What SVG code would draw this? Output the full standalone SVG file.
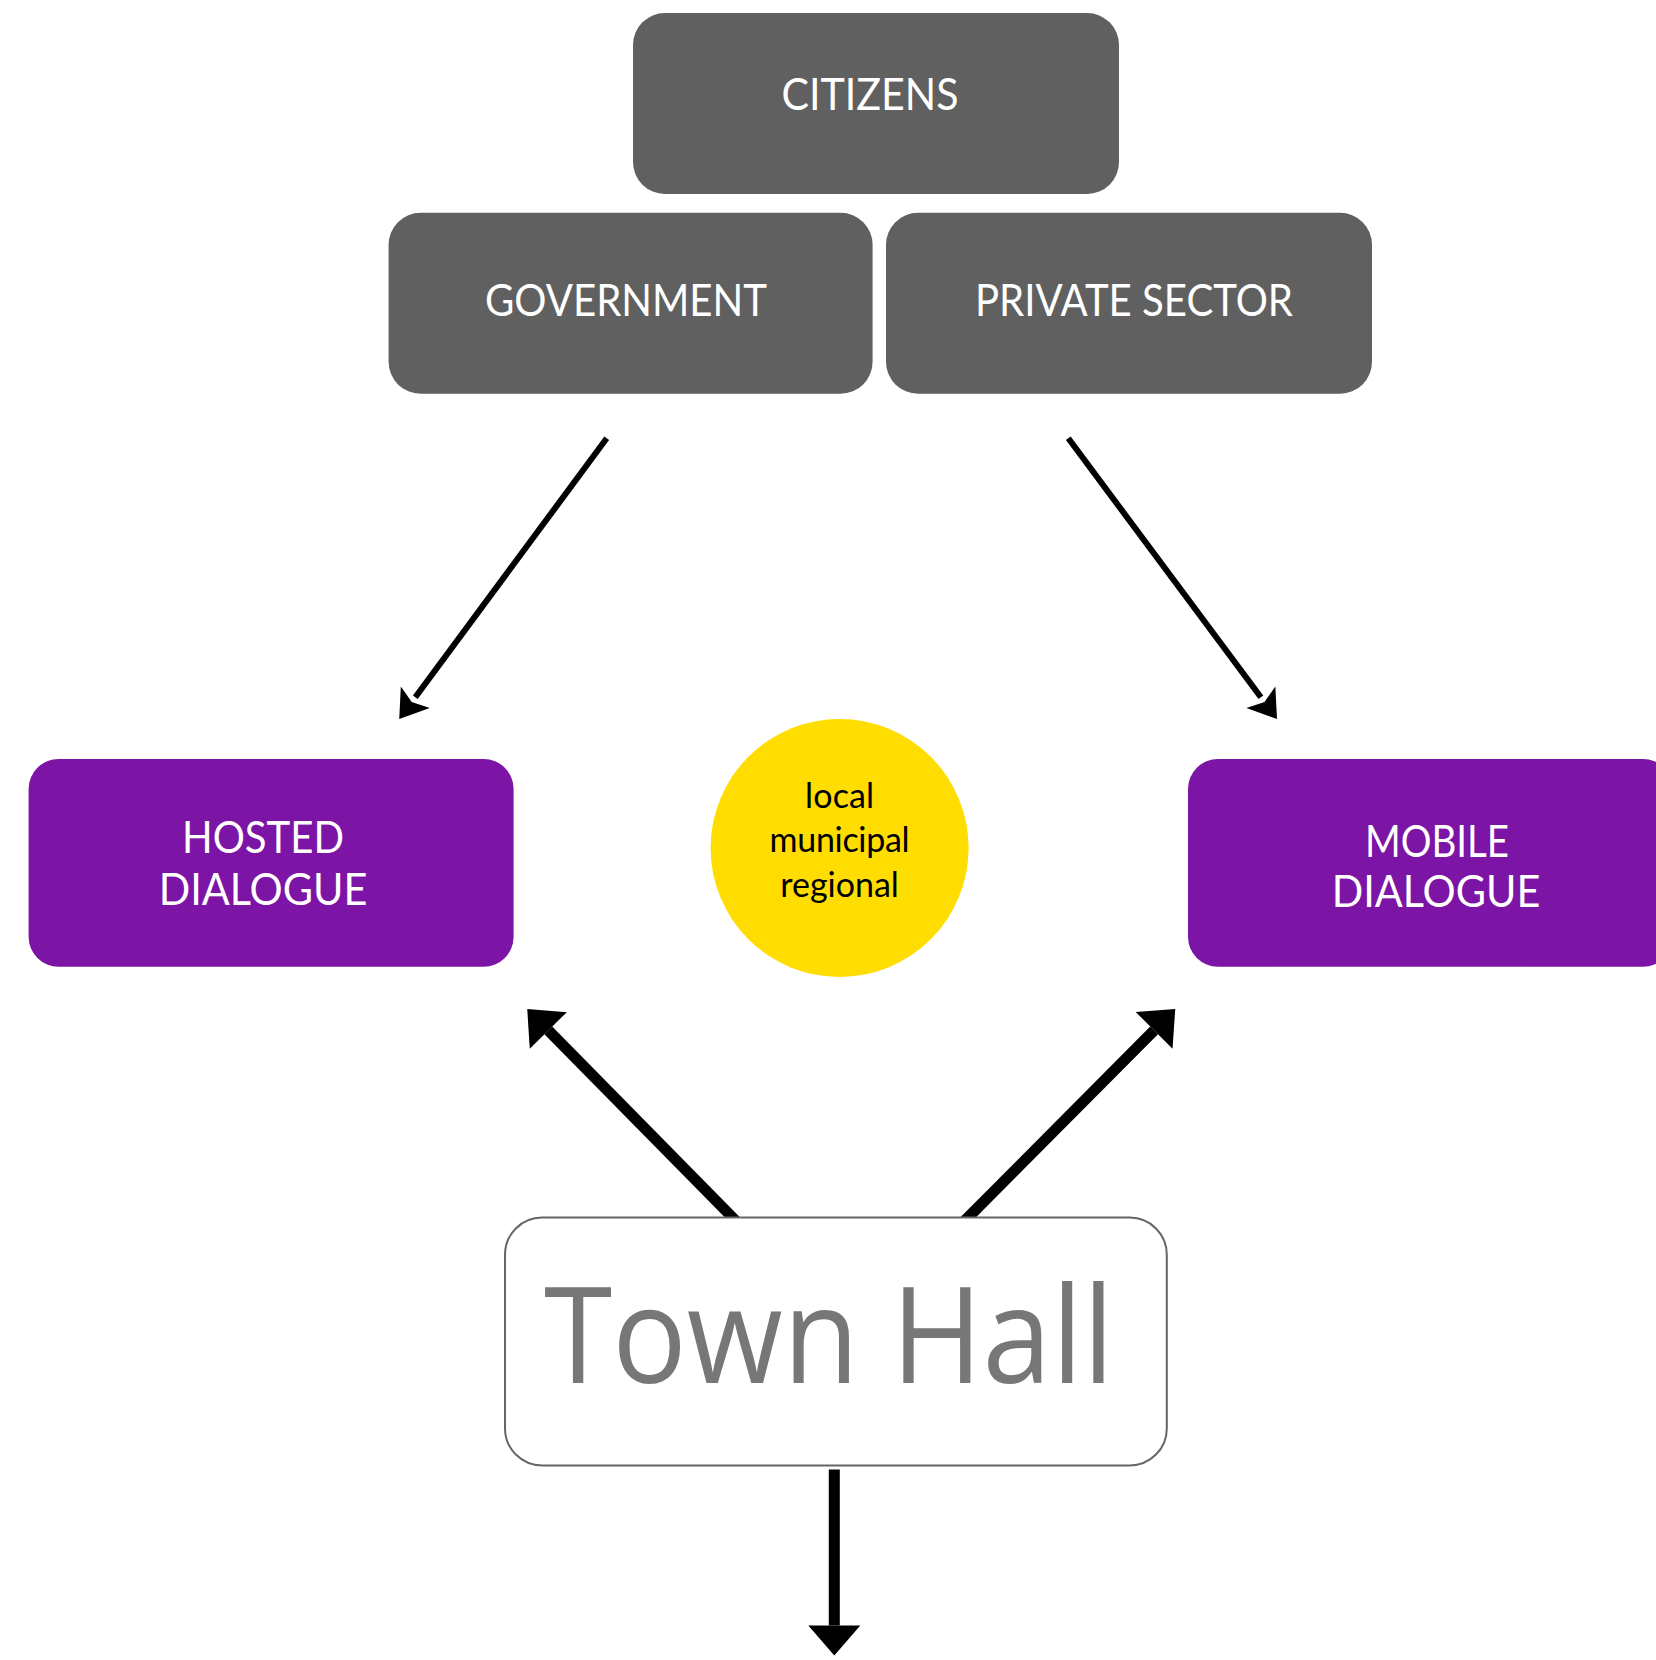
<svg xmlns="http://www.w3.org/2000/svg" width="1656" height="1660" viewBox="0 0 1656 1660">
<style>
.grey{fill:#606060}
.purple{fill:#7C14A6}
.lbl{font-family:Lato,"Open Sans","Liberation Sans",sans-serif;font-size:45px;fill:#ffffff;text-anchor:middle}
.sm{font-family:Lato,"Open Sans","Liberation Sans",sans-serif;font-size:34px;fill:#000000;text-anchor:middle}
.thin{stroke:#000;stroke-width:6;fill:none}
.thick{stroke:#000;stroke-width:11;fill:none}
</style>
<defs>
<marker id="headThin" markerUnits="userSpaceOnUse" orient="auto" refX="0" refY="0" markerWidth="32" markerHeight="40" overflow="visible">
<path d="M0,-18 L27,0 L0,18 L6,0 Z" fill="#000"/>
</marker>
<marker id="headThick" markerUnits="userSpaceOnUse" orient="auto" refX="0" refY="0" markerWidth="32" markerHeight="56" overflow="visible">
<path d="M0,-26 L30,0 L0,26 Z" fill="#000"/>
</marker>
</defs>
<rect width="1656" height="1660" fill="#ffffff"/>
<g id="connectors">
<line class="thin" x1="606.7" y1="438.3" x2="415.3" y2="697.2" marker-end="url(#headThin)"/>
<line class="thin" x1="1068.3" y1="438.3" x2="1260.9" y2="697.3" marker-end="url(#headThin)"/>
<line class="thick" x1="737" y1="1222" x2="548.3" y2="1030.4" marker-end="url(#headThick)"/>
<line class="thick" x1="963.5" y1="1222" x2="1154.1" y2="1030.3" marker-end="url(#headThick)"/>
<line class="thick" x1="834.3" y1="1469.6" x2="834.3" y2="1625.4" marker-end="url(#headThick)"/>
</g>
<g id="citizens">
<rect class="grey" x="633" y="13" width="486" height="181" rx="32"/>
<text class="lbl" x="870" y="110" textLength="177" lengthAdjust="spacingAndGlyphs">CITIZENS</text>
</g>
<g id="government">
<rect class="grey" x="388.6" y="212.8" width="484" height="181" rx="32"/>
<text class="lbl" x="626" y="315.5" textLength="282" lengthAdjust="spacingAndGlyphs">GOVERNMENT</text>
</g>
<g id="private-sector">
<rect class="grey" x="886" y="212.8" width="486" height="181" rx="32"/>
<text class="lbl" x="1134" y="315.5" textLength="318" lengthAdjust="spacingAndGlyphs">PRIVATE SECTOR</text>
</g>
<g id="hosted-dialogue">
<rect class="purple" x="28.6" y="759" width="485" height="207.7" rx="30"/>
<text class="lbl" x="263" y="853.4" textLength="162" lengthAdjust="spacingAndGlyphs">HOSTED</text>
<text class="lbl" x="263" y="905" textLength="208.6" lengthAdjust="spacingAndGlyphs">DIALOGUE</text>
</g>
<g id="mobile-dialogue">
<rect class="purple" x="1188" y="759" width="485" height="207.7" rx="30"/>
<text class="lbl" x="1437" y="856.6" textLength="144" lengthAdjust="spacingAndGlyphs">MOBILE</text>
<text class="lbl" x="1436" y="907.4" textLength="208.6" lengthAdjust="spacingAndGlyphs">DIALOGUE</text>
</g>
<g id="scope">
<circle cx="839.6" cy="848" r="129" fill="#FFDD00"/>
<text class="sm" x="839.6" y="808" textLength="69">local</text>
<text class="sm" x="839.6" y="852" textLength="140">municipal</text>
<text class="sm" x="839.6" y="897" textLength="118.6">regional</text>
</g>
<g id="town-hall">
<rect x="505" y="1217.6" width="661.8" height="247.8" rx="37" fill="#ffffff" stroke="#666666" stroke-width="2"/>
<text x="829" y="1383" font-family="'Open Sans','Liberation Sans',sans-serif" font-size="134" fill="#777777" text-anchor="middle" textLength="570" lengthAdjust="spacingAndGlyphs">Town Hall</text>
</g>
</svg>
